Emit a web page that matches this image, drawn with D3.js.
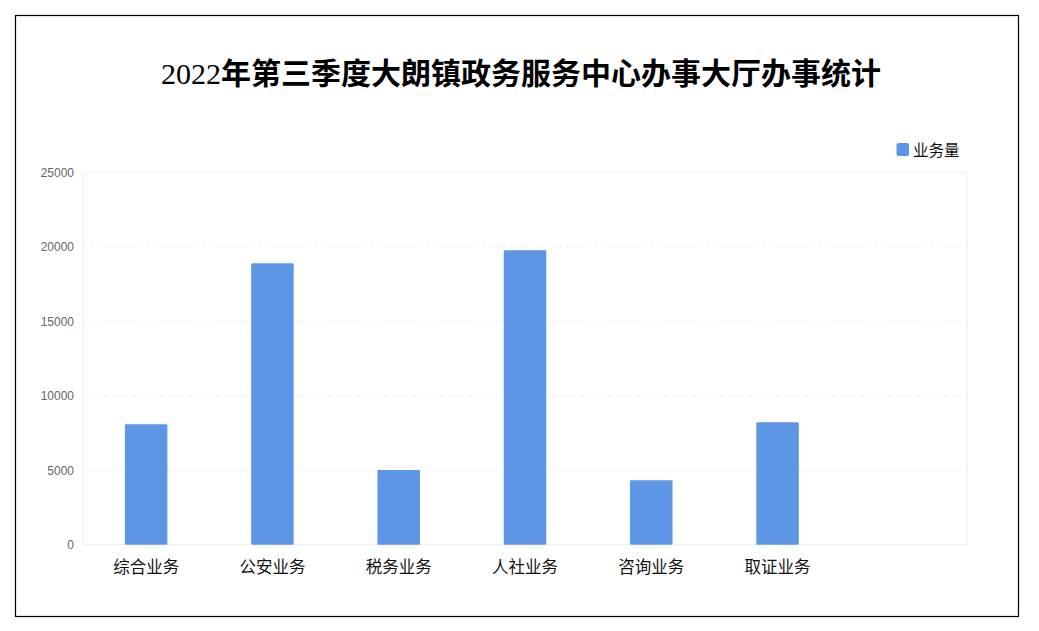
<!DOCTYPE html>
<html><head><meta charset="utf-8">
<script src="https://cdn.jsdelivr.net/npm/d3@7"></script>
<style>body{margin:0;background:#fff}svg{display:block}</style>
</head><body>
<svg id="c" width="1039" height="631"></svg>
<script>
const categories = ["综合业务","公安业务","税务业务","人社业务","咨询业务","取证业务",""];
const values = [8090, 18900, 5020, 19770, 4330, 8220, null];
const yTicks = [0, 5000, 10000, 15000, 20000, 25000];
const seriesName = "业务量";
const titleNum = "2022";
const titleText = "年第三季度大朗镇政务服务中心办事大厅办事统计";

const svg = d3.select("#c");
svg.append("rect").attr("x",15.5).attr("y",15.5).attr("width",1003).attr("height",601)
  .attr("fill","#fff").attr("stroke","#000").attr("stroke-width",1.2);

const L=83, R=967, T=172.4, B=544.7;
const x = d3.scaleBand().domain(categories.map((d,i)=>i)).range([L,R]).paddingInner(0).paddingOuter(0);
const y = d3.scaleLinear().domain([0,25000]).range([B,T]);

// grid
svg.append("g").selectAll("line").data(yTicks.filter(t=>t>0&&t<25000)).join("line")
  .attr("x1",L).attr("x2",R).attr("y1",d=>y(d)).attr("y2",d=>y(d))
  .attr("stroke","#eeeeee").attr("stroke-dasharray","4,3");
svg.append("rect").attr("x",L).attr("y",T).attr("width",R-L).attr("height",B-T)
  .attr("fill","none").attr("stroke","#eeeeee");

// y axis
const ya = svg.append("g").attr("transform",`translate(${L-9},0)`)
  .call(d3.axisLeft(y).tickValues(yTicks).tickSize(0).tickPadding(0).tickFormat(d3.format("d")));
ya.select(".domain").remove();
ya.selectAll("text").attr("fill","#666").attr("font-size",12)
  .attr("font-family","'Liberation Sans', Arial, sans-serif");

// x axis labels
const xa = svg.append("g").attr("transform",`translate(0,${B})`)
  .call(d3.axisBottom(x).tickSize(0).tickPadding(17).tickFormat(i=>categories[i]));
xa.select(".domain").remove();
xa.selectAll("text").attr("fill","#111").attr("font-size",16.5)
  .attr("font-family","'Noto Sans CJK SC', sans-serif");

// bars
const bw = 42.5;
svg.append("g").selectAll("rect").data(values.map((v,i)=>({v,i})).filter(d=>d.v!=null)).join("rect")
  .attr("x",d=>x(d.i)+x.bandwidth()/2-bw/2).attr("width",bw)
  .attr("y",d=>y(d.v)).attr("height",d=>B-y(d.v))
  .attr("fill","#5e96e6").attr("rx",1);

// title
const t = svg.append("text").attr("x",521).attr("y",84).attr("text-anchor","middle").attr("font-size",30);
t.append("tspan").attr("font-family","'Liberation Serif', 'Times New Roman', serif").attr("fill","#000").text(titleNum);
t.append("tspan").attr("font-family","'Noto Sans CJK SC', sans-serif").attr("font-weight","bold").attr("fill","#000").text(titleText);

// legend
svg.append("rect").attr("x",896.5).attr("y",143).attr("width",12.5).attr("height",13).attr("rx",2).attr("fill","#5e96e6");
svg.append("text").attr("x",913).attr("y",155.5).attr("font-size",15.5)
  .attr("font-family","'Noto Sans CJK SC', sans-serif").attr("fill","#111").text(seriesName);
</script>
</body></html>
